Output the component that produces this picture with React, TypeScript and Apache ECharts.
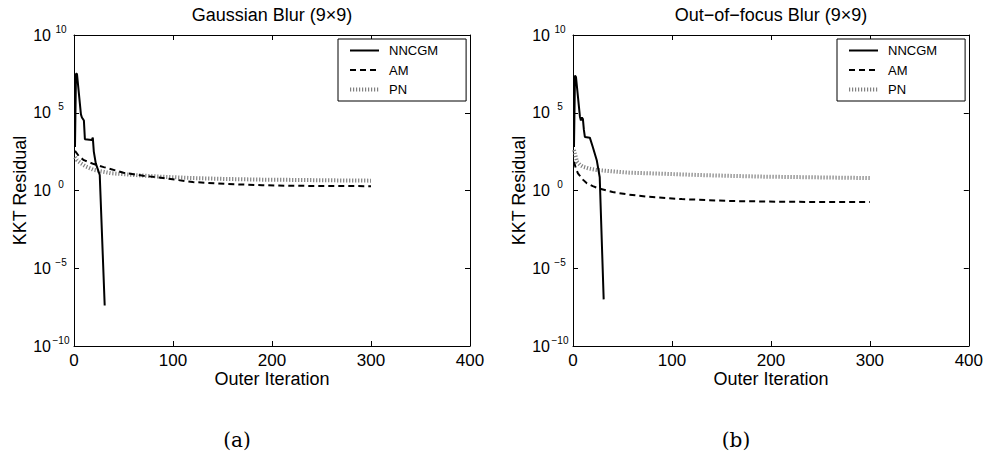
import React, { useEffect, useRef } from "react";
import * as echarts from "echarts";

// ---- Gaussian Blur (9x9) ----
const gaussNNCGMIter = [1, 2, 3, 7, 8, 10, 11, 18, 19, 20, 22, 26, 31];
const gaussNNCGM = [6.3e2, 3.2e7, 3.2e7, 7.9e4, 5.0e4, 3.2e4, 2.0e3, 1.8e3, 2.5e3, 3.2e2, 56, 10, 4.0e-8];
const gaussAMIter = [1, 5, 10, 20, 30, 50, 70, 90, 120, 155, 190, 220, 260, 300];
const gaussAM = [3.5e2, 1.6e2, 89, 50, 32, 14, 8.9, 6.3, 3.5, 2.6, 2.2, 2.0, 1.95, 1.9];
const gaussPNIter = [1, 3, 7, 12, 20, 37, 60, 87, 120, 154, 190, 221, 260, 300];
const gaussPN = [1.4e2, 89, 56, 35, 21, 13, 10, 7.8, 6.3, 5.5, 5.0, 4.8, 4.5, 4.3];

// ---- Out-of-focus Blur (9x9) ----
const focusNNCGMIter = [1, 2, 3, 7, 8, 9, 10, 11, 12, 17, 20, 24, 27, 31];
const focusNNCGM = [6.3e2, 2.5e7, 2.0e7, 5.6e4, 3.2e4, 5.0e4, 4.0e4, 7.9e3, 2.8e3, 2.5e3, 6.3e2, 89, 7.1, 1.0e-7];
const focusAMIter = [1, 3, 5, 10, 14, 20, 27, 40, 55, 75, 110, 160, 210, 260, 300];
const focusAM = [71, 25, 12.6, 5.0, 2.9, 1.9, 1.3, 0.79, 0.56, 0.4, 0.28, 0.21, 0.19, 0.18, 0.18];
const focusPNIter = [1, 3, 4, 7, 10, 16, 24, 40, 57, 90, 125, 160, 192, 240, 276, 300];
const focusPN = [4.0e2, 1.3e2, 71, 45, 34, 26, 21, 17, 14, 12, 10, 8.7, 7.8, 7.1, 6.6, 6.3];

const xTicks = [0, 100, 200, 300, 400];
const seriesNames = ["NNCGM", "AM", "PN"];
const panelTitles = ["Gaussian Blur (9\u00d79)", "Out\u2212of\u2212focus Blur (9\u00d79)"];
const captions = ["(a)", "(b)"];

const FONT = "'Liberation Sans', Arial, Helvetica, sans-serif";
const SERIF = "'DejaVu Serif', 'Liberation Serif', serif";

const zip = (xs: number[], ys: number[]) => xs.map((x, i) => [x, ys[i]]);

const GRID_LEFTS = [74, 573];
const GRID_TOP = 35;
const GRID_W = 396;
const GRID_H = 311;

function buildOption() {
  const grids = GRID_LEFTS.map((l) => ({ left: l, top: GRID_TOP, width: GRID_W, height: GRID_H }));
  const xAxes: any[] = [];
  const yAxes: any[] = [];
  const lineCommon = { lineStyle: { color: "#000", width: 1 } };
  GRID_LEFTS.forEach((_, g) => {
    const baseX = {
      gridIndex: g,
      type: "value",
      min: xTicks[0],
      max: xTicks[xTicks.length - 1],
      interval: 100,
      axisLine: { show: true, onZero: false, ...lineCommon },
      axisTick: { show: true, inside: true, length: 5, lineStyle: { color: "#000", width: 1 } },
      splitLine: { show: false },
    };
    xAxes.push({
      ...baseX,
      position: "bottom",
      axisLabel: { color: "#000", fontSize: 17, fontFamily: FONT, margin: 6 },
      name: "Outer Iteration",
      nameLocation: "middle",
      nameGap: 24,
      nameMoveOverlap: false,
      nameTextStyle: { color: "#000", fontSize: 18, fontFamily: FONT },
    });
    xAxes.push({ ...baseX, position: "top", axisLabel: { show: false } });
    const baseY = {
      gridIndex: g,
      type: "log",
      logBase: 1e5,
      min: 1e-10,
      max: 1e10,
      axisLine: { show: true, onZero: false, ...lineCommon },
      axisTick: { show: true, inside: true, length: 5, lineStyle: { color: "#000", width: 1 } },
      splitLine: { show: false },
      minorTick: { show: false },
    };
    yAxes.push({
      ...baseY,
      position: "left",
      axisLabel: {
        margin: 3,
        formatter: (v: number) => {
          const e = Math.round(Math.log10(v));
          const s = e < 0 ? "\u2212" + -e : String(e);
          return `{b|10}{s|${s}}`;
        },
        rich: {
          b: { fontSize: 16, fontFamily: FONT, color: "#000", lineHeight: 22 },
          s: { fontSize: 10, fontFamily: FONT, color: "#000", lineHeight: 13, verticalAlign: "top", width: 20, align: "left" },
        },
      },
      name: "KKT Residual",
      nameLocation: "middle",
      nameGap: 43,
      nameTextStyle: { color: "#000", fontSize: 18, fontFamily: FONT },
    });
    yAxes.push({ ...baseY, position: "right", axisLabel: { show: false } });
  });

  const styles: Record<string, any> = {
    NNCGM: { color: "#000", width: 2, type: "solid" },
    AM: { color: "#000", width: 2, type: [6, 4] },
    PN: { color: "#808080", width: 4, type: [1.2, 1.8] },
  };
  const panelData = [
    [zip(gaussNNCGMIter, gaussNNCGM), zip(gaussAMIter, gaussAM), zip(gaussPNIter, gaussPN)],
    [zip(focusNNCGMIter, focusNNCGM), zip(focusAMIter, focusAM), zip(focusPNIter, focusPN)],
  ];
  const series: any[] = [];
  panelData.forEach((sets, g) => {
    sets.forEach((d, k) => {
      const name = seriesNames[k];
      series.push({
        type: "line",
        name,
        xAxisIndex: g * 2,
        yAxisIndex: g * 2,
        data: d,
        symbol: "none",
        showSymbol: false,
        lineStyle: styles[name],
        itemStyle: { color: styles[name].color },
        z: 10 - k,
      });
    });
  });

  const legends = GRID_LEFTS.map((l) => ({
    left: l + 264,
    top: 39,
    orient: "vertical",
    itemWidth: 29,
    itemHeight: 14,
    itemGap: 6.5,
    padding: [5, 28, 5, 10],
    borderColor: "#000",
    borderWidth: 1,
    backgroundColor: "#fff",
    selectedMode: false,
    itemStyle: { color: "rgba(0,0,0,0)", borderWidth: 0, opacity: 0 },
    textStyle: { color: "#000", fontSize: 13, fontFamily: FONT, padding: [0, 0, 0, 5] },
    data: [
      { name: "NNCGM", lineStyle: { width: 2 } },
      { name: "AM", lineStyle: { width: 2 } },
      { name: "PN", lineStyle: { width: 4 } },
    ],
  }));

  const graphic: any[] = [];
  GRID_LEFTS.forEach((l, g) => {
    graphic.push({
      type: "text",
      x: l + GRID_W / 2,
      y: 15,
      style: {
        text: panelTitles[g],
        fill: "#000",
        fontSize: 18,
        fontFamily: FONT,
        align: "center",
        verticalAlign: "middle",
        textAlign: "center",
        textVerticalAlign: "middle",
      },
    });
    graphic.push({
      type: "text",
      x: l + GRID_W / 2 - 35,
      y: 440,
      style: {
        text: captions[g],
        fill: "#000",
        fontSize: 20,
        fontFamily: SERIF,
        align: "center",
        verticalAlign: "middle",
        textAlign: "center",
        textVerticalAlign: "middle",
      },
    });
  });

  return {
    animation: false,
    backgroundColor: "#fff",
    grid: grids,
    xAxis: xAxes,
    yAxis: yAxes,
    legend: legends,
    series,
    graphic,
  };
}

export default function App() {
  const ref = useRef<HTMLDivElement>(null);
  useEffect(() => {
    if (!ref.current) return;
    const chart = echarts.init(ref.current, undefined, { renderer: "svg" });
    chart.setOption(buildOption() as any);
    return () => chart.dispose();
  }, []);
  return (
    <div
      ref={ref}
      style={{ position: "absolute", left: 0, top: 0, width: 986, height: 456, background: "#fff" }}
    />
  );
}
